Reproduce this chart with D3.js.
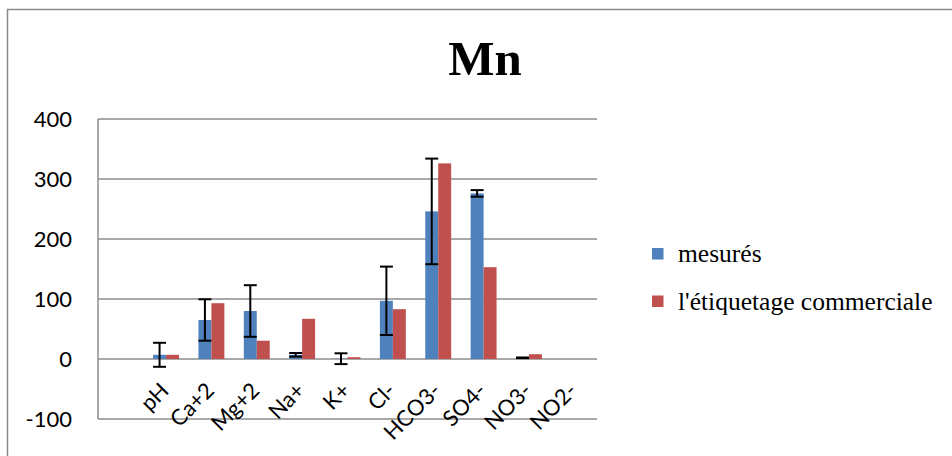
<!DOCTYPE html>
<html>
<head>
<meta charset="utf-8">
<script src="https://cdn.jsdelivr.net/npm/d3@7/dist/d3.min.js"></script>
<style>
  html, body { margin: 0; padding: 0; background: #fff; }
  svg { display: block; }
</style>
</head>
<body>
<svg id="chart" width="952" height="456"></svg>
<script>
// Ion categories (first slot is an empty category, as in the workbook)
const categories = ["", "pH", "Ca+2", "Mg+2", "Na+", "K+", "Cl-", "HCO3-", "SO4-", "NO3-", "NO2-"];
// Measured values and their standard deviation
const measured    = [null, 7, 65, 80, 7, 0.5, 97, 246, 276, 2, 0];
const measuredErr = [null, 20, 34.5, 43, 3, 9, 57, 88, 5.5, 0.5, 0];
// Values printed on the commercial label
const labelled    = [null, 7, 93, 30.5, 67, 3, 83, 326, 153, 8, 0];
const yTicks = [-100, 0, 100, 200, 300, 400];

const seriesNames = ["mesurés", "l'étiquetage commerciale"];
const colors = ["#4F81BD", "#C0504D"];

const svg = d3.select("#chart");

// outer frame (top and left edges visible)
svg.append("path")
  .attr("d", "M7.5,456 V9.5 H952")
  .attr("fill", "none").attr("stroke", "#8a8a8a").attr("stroke-width", 1.5);

const plot = { left: 98, right: 597, top: 119, bottom: 419 };

const x = d3.scaleBand().domain(categories.map((c, i) => i))
  .range([plot.left, plot.right]).paddingInner(0).paddingOuter(0);
const y = d3.scaleLinear().domain([-100, 400]).range([plot.bottom, plot.top]);

const gap = 1.5; // gap width relative to one bar
const barW = x.bandwidth() / (2 + gap);

// gridlines
svg.append("g").selectAll("line").data(yTicks).join("line")
  .attr("x1", plot.left).attr("x2", plot.right)
  .attr("y1", d => y(d)).attr("y2", d => y(d))
  .attr("stroke", "#8c8c8c").attr("stroke-width", 1.5);

// vertical axis line
svg.append("line")
  .attr("x1", plot.left).attr("x2", plot.left)
  .attr("y1", plot.top).attr("y2", plot.bottom)
  .attr("stroke", "#8c8c8c").attr("stroke-width", 1.5);

// y tick labels
const yAxis = d3.axisLeft(y).tickValues(yTicks).tickSize(0).tickPadding(26)
  .tickFormat(d => String(d));
const gy = svg.append("g").attr("transform", `translate(${plot.left},0)`).call(yAxis);
gy.select(".domain").remove();
gy.selectAll("text")
  .attr("font-family", "Lato, 'Open Sans', sans-serif")
  .attr("font-size", 22).attr("fill", "#000").attr("dy", "0.34em");

// bars
const seriesData = [measured, labelled];
seriesData.forEach((vals, s) => {
  svg.append("g").selectAll("rect")
    .data(vals.map((v, i) => ({ v, i })).filter(d => d.v !== null && d.v > 0))
    .join("rect")
    .attr("x", d => x(d.i) + barW * gap / 2 + s * barW)
    .attr("width", barW)
    .attr("y", d => y(d.v))
    .attr("height", d => y(0) - y(d.v))
    .attr("fill", colors[s]);
});

// error bars on the measured series
const errData = measured.map((v, i) => ({ v, e: measuredErr[i], i }))
  .filter(d => d.v !== null && d.e > 0);
const eg = svg.append("g").attr("stroke", "#000").attr("stroke-width", 2);
errData.forEach(d => {
  const cx = x(d.i) + barW * gap / 2 + barW / 2;
  const capW = barW / 2;
  eg.append("line").attr("x1", cx).attr("x2", cx)
    .attr("y1", y(d.v + d.e)).attr("y2", y(d.v - d.e));
  eg.append("line").attr("x1", cx - capW).attr("x2", cx + capW)
    .attr("y1", y(d.v + d.e)).attr("y2", y(d.v + d.e));
  eg.append("line").attr("x1", cx - capW).attr("x2", cx + capW)
    .attr("y1", y(d.v - d.e)).attr("y2", y(d.v - d.e));
});

// category labels, rotated
svg.append("g").selectAll("text")
  .data(categories.map((c, i) => ({ c, i })).filter(d => d.c))
  .join("text")
  .attr("transform", d => `translate(${x(d.i) + x.bandwidth() / 2 + 4},${y(0) + 33}) rotate(-45)`)
  .attr("text-anchor", "end")
  .attr("font-family", "Lato, 'Open Sans', sans-serif")
  .attr("font-size", 22).attr("fill", "#000")
  .text(d => d.c);

// title
svg.append("text")
  .attr("x", 485).attr("y", 75)
  .attr("text-anchor", "middle")
  .attr("font-family", "'Liberation Serif', 'Times New Roman', serif")
  .attr("font-weight", "bold").attr("font-size", 49)
  .text("Mn");

// legend
const lg = svg.append("g");
seriesNames.forEach((name, s) => {
  const cy = 254 + s * 47.5;
  lg.append("rect").attr("x", 652).attr("y", cy - 6).attr("width", 11.5).attr("height", 11.5)
    .attr("fill", colors[s]);
  lg.append("text").attr("x", 678).attr("y", cy).attr("dy", "0.33em")
    .attr("font-family", "'Liberation Serif', 'Times New Roman', serif")
    .attr("font-size", 25.5).attr("fill", "#000")
    .text(name);
});
</script>
</body>
</html>
